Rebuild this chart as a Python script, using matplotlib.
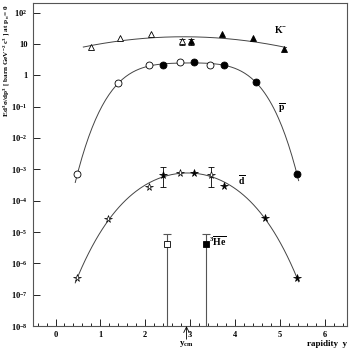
import numpy as np
import matplotlib
matplotlib.use("Agg")
import matplotlib.pyplot as plt
from matplotlib.ticker import FixedLocator, LogLocator, MultipleLocator, NullFormatter

plt.rcParams['font.family'] = 'Liberation Serif'
plt.rcParams['font.weight'] = 'bold'
plt.rcParams['mathtext.fontset'] = 'custom'
plt.rcParams['mathtext.rm'] = 'Liberation Serif:bold'
plt.rcParams['mathtext.it'] = 'Liberation Serif:bold'
plt.rcParams['mathtext.bf'] = 'Liberation Serif:bold'

# K- (open = measured, filled = reflected)
k_open_y = [0.78, 1.44, 2.13, 2.82]
k_open_v = [7.9, 15, 20, 12]
k_fill_y = [3.02, 3.71, 4.40, 5.09]
k_fill_v = [12, 20, 15, 6.8]
k_err_y = [2.82, 3.02]
k_err_v = [12, 12]
k_err_lo = [2.5, 2.5]
k_err_hi = [2.8, 2.8]

# anti-protons
p_open_y = [0.49, 1.40, 2.09, 2.78, 3.44]
p_open_v = [7.3e-4, 0.55, 2.1, 2.6, 2.2]
p_fill_y = [2.40, 3.09, 3.76, 4.47, 5.38]
p_fill_v = [2.1, 2.6, 2.1, 0.6, 7.3e-4]

# anti-deuterons
d_open_y = [0.49, 1.18, 2.09, 2.78, 3.47]
d_open_v = [3.5e-7, 2.6e-5, 2.8e-4, 7.9e-4, 6.8e-4]
d_fill_y = [2.40, 3.09, 3.76, 4.67, 5.38]
d_fill_v = [6.8e-4, 7.9e-4, 3.0e-4, 2.9e-5, 3.5e-7]
d_err_y = [2.40, 3.47]
d_err_v = [6.8e-4, 6.8e-4]
d_err_lo = [4.0e-4, 4.0e-4]
d_err_hi = [4.7e-4, 4.7e-4]

# anti-3He
he_y = [2.49, 3.36]
he_v = [4.2e-6, 4.2e-6]
he_hi = [4.5e-6, 4.5e-6]

y_cm = 2.92

fig = plt.figure(figsize=(3.52, 3.51), dpi=100)
ax = fig.add_axes([0.094, 0.071, 0.892, 0.92])
ax.set_yscale('log')


def fit_curve(ys, vs, lo, hi, deg=4):
    c = np.polyfit(ys, np.log10(vs), deg)
    xx = np.linspace(lo, hi, 200)
    return xx, 10 ** np.polyval(c, xx)


lw = 0.7
col = '#444444'
xx, ff = fit_curve(k_open_y + k_fill_y, k_open_v + k_fill_v, 0.62, 5.15, 2)
ax.plot(xx, ff, color=col, lw=lw)
xx, ff = fit_curve(p_open_y + p_fill_y, p_open_v + p_fill_v, 0.44, 5.42)
ax.plot(xx, ff, color=col, lw=lw)
xx, ff = fit_curve(d_open_y + d_fill_y, d_open_v + d_fill_v, 0.44, 5.42)
ax.plot(xx, ff, color=col, lw=lw)

ax.errorbar(k_err_y, k_err_v, yerr=[k_err_lo, k_err_hi], fmt='none', ecolor='black',
            elinewidth=0.6, capsize=2.5, capthick=0.6)
ax.errorbar(d_err_y, d_err_v, yerr=[d_err_lo, d_err_hi], fmt='none', ecolor='black',
            elinewidth=0.6, capsize=2.5, capthick=0.6)
he_lo = [v - 1e-10 for v in he_v]
ax.errorbar(he_y, he_v, yerr=[he_lo, he_hi], fmt='none', ecolor='#555555',
            elinewidth=0.8, capsize=3, capthick=0.8)

ax.plot(k_open_y, k_open_v, '^', mfc='white', mec='black', ms=5, mew=0.6)
ax.plot(k_fill_y, k_fill_v, '^', mfc='black', mec='black', ms=5, mew=0.6)
ax.plot(p_open_y, p_open_v, 'o', mfc='white', mec='black', ms=5, mew=0.6)
ax.plot(p_fill_y, p_fill_v, 'o', mfc='black', mec='black', ms=5, mew=0.6)
ax.plot(d_open_y, d_open_v, '*', mfc='white', mec='black', ms=5.5, mew=0.5)
ax.plot(d_fill_y, d_fill_v, '*', mfc='black', mec='black', ms=5.5, mew=0.5)
ax.plot(he_y[0], he_v[0], 's', mfc='white', mec='black', ms=5, mew=0.6)
ax.plot(he_y[1], he_v[1], 's', mfc='black', mec='black', ms=5, mew=0.6)

ax.set_xlim(-0.5, 6.5)
ax.set_ylim(1e-8, 10 ** 2.3)

ax.text(4.86, 22, r'$\mathrm{K^{-}}$', fontsize=7)
ax.text(4.97, 0.075, r'$\overline{\mathrm{p}}$', fontsize=7)
ax.text(4.07, 3.3e-4, r'$\overline{\mathrm{d}}$', fontsize=7)
ax.text(3.42, 3.6e-6, r'$^{3}\overline{\mathrm{He}}$', fontsize=7)

ax.annotate('', xy=(y_cm, 1e-8), xytext=(y_cm, 10 ** -8.42),
            arrowprops=dict(arrowstyle='->', lw=0.6, color='black',
                            shrinkA=0, shrinkB=0),
            annotation_clip=False)
ax.text(y_cm, 10 ** -8.57, r'$\mathrm{y_{cm}}$', fontsize=6.5, ha='center', va='center')
ax.text(6.5, 10 ** -8.57, 'rapidity  y', fontsize=6.5, ha='right', va='center')

ax.xaxis.set_major_locator(MultipleLocator(1))
ax.xaxis.set_minor_locator(MultipleLocator(0.2))
ax.yaxis.set_major_locator(FixedLocator([10.0 ** e for e in range(-8, 3)]))
ax.yaxis.set_minor_locator(LogLocator(base=10, subs=np.arange(2, 10)))
ax.yaxis.set_minor_formatter(NullFormatter())
ylabels = []
for e in range(-8, 3):
    if e == 0:
        ylabels.append('1')
    elif e == 1:
        ylabels.append('10')
    else:
        ylabels.append(r'$\mathrm{10^{%d}}$' % e)
ax.set_yticklabels(ylabels)
ax.set_xticks(range(0, 7))
ax.set_xticklabels([str(i) for i in range(0, 7)])

ax.tick_params(which='both', direction='in', top=False, right=False, labelsize=6, width=0.6)
ax.tick_params(which='major', length=5)
ax.tick_params(which='minor', length=2.5)
ax.tick_params(axis='y', pad=4)
for s in ax.spines.values():
    s.set_linewidth(0.8)
    s.set_color('#555555')

fig.text(0.005, 0.99, r'$\mathrm{E\,d^{3}\sigma/dp^{3}}$ [ barn GeV$^{-2}$ c$^{3}$ ] at p$_{\perp}$= 0',
         rotation=90, fontsize=5.2, ha='left', va='top')

fig.savefig('out.png', dpi=100)
